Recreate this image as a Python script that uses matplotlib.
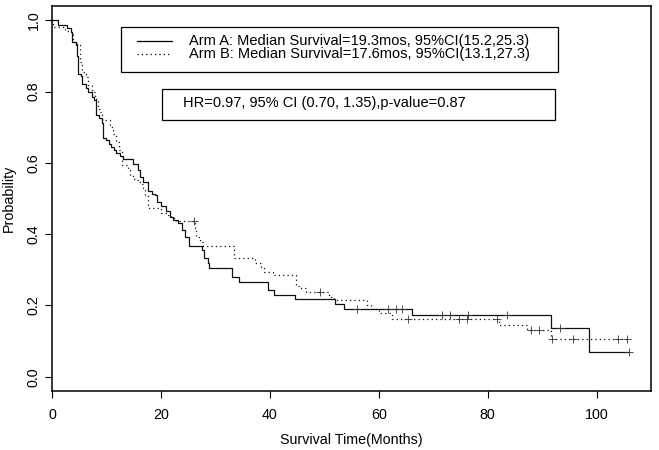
import matplotlib
matplotlib.use("Agg")
import matplotlib.pyplot as plt
import numpy as np
from matplotlib.patches import Rectangle
from matplotlib.lines import Line2D

plt.rcParams['font.family'] = ['Liberation Sans', 'DejaVu Sans']

# Arm A (solid): event times (months) and survival after each step
times_a = [0, 1.1, 2.7, 3.4, 3.6, 4.4, 4.6, 4.8, 5.3, 5.5, 6.2, 6.6, 7.3, 7.7, 8.0,
           8.6, 9.1, 9.4, 10.0, 10.5, 10.9, 11.4, 11.8, 12.5, 13.1, 14.9, 15.8,
           16.1, 16.7, 17.6, 18.4, 18.9, 19.3, 20.1, 21.0, 21.6, 22.2, 23.1, 23.8,
           24.4, 25.1, 27.6, 28.0, 28.6, 28.9, 33.1, 34.4, 39.6, 40.8, 44.7, 52.0,
           53.7, 66.1, 91.6, 98.7]
surv_a = [1.0, 0.988, 0.978, 0.966, 0.94, 0.93, 0.90, 0.85, 0.845, 0.82, 0.81, 0.80,
          0.785, 0.776, 0.733, 0.726, 0.711, 0.67, 0.663, 0.654, 0.645, 0.636, 0.629,
          0.619, 0.612, 0.598, 0.58, 0.56, 0.545, 0.521, 0.514, 0.509, 0.49, 0.479,
          0.465, 0.449, 0.441, 0.43, 0.411, 0.393, 0.366, 0.355, 0.332, 0.319, 0.304,
          0.279, 0.266, 0.243, 0.229, 0.217, 0.203, 0.189, 0.173, 0.138, 0.069]
end_a = 105.9
censor_a = [56.0, 61.7, 63.1, 64.3, 71.7, 73.0, 76.4, 83.5, 93.2, 105.9]

# Arm B (dotted)
times_b = [0, 0.2, 2.4, 3.3, 3.9, 4.5, 5.1, 5.5, 6.2, 6.6, 7.3, 7.9, 8.5, 8.8, 9.1,
           10.6, 11.2, 11.7, 12.3, 12.8, 12.9, 14.0, 14.3, 14.9, 15.6, 16.1, 16.7,
           17.0, 17.6, 17.9, 20.1, 21.3, 21.9, 22.7, 26.2, 26.5, 27.1, 27.8, 33.4,
           37.2, 38.4, 39.0, 40.5, 44.8, 45.7, 46.6, 50.9, 51.8, 57.9, 58.6, 60.1,
           62.5, 82.1, 87.2, 91.6]
surv_b = [1.0, 0.98, 0.971, 0.966, 0.938, 0.93, 0.882, 0.854, 0.84, 0.817, 0.798,
          0.778, 0.751, 0.743, 0.72, 0.70, 0.682, 0.659, 0.636, 0.612, 0.593, 0.579,
          0.565, 0.556, 0.551, 0.542, 0.523, 0.509, 0.481, 0.472, 0.46, 0.453, 0.444,
          0.437, 0.416, 0.393, 0.378, 0.366, 0.332, 0.318, 0.308, 0.294, 0.285, 0.254,
          0.248, 0.238, 0.224, 0.215, 0.201, 0.189, 0.178, 0.162, 0.145, 0.131, 0.107]
end_b = 105.6
censor_b = [26.1, 49.2, 65.4, 74.7, 76.2, 81.7, 88.0, 89.4, 91.8, 95.6, 103.9, 105.6]

legend_labels = ["Arm A: Median Survival=19.3mos, 95%CI(15.2,25.3)",
                 "Arm B: Median Survival=17.6mos, 95%CI(13.1,27.3)"]
hr_text = "HR=0.97, 95% CI (0.70, 1.35),p-value=0.87"

W, H = 659, 450
fig = plt.figure(figsize=(W / 100, H / 100), dpi=100)
ax = fig.add_axes([52 / W, (H - 391) / H, (651 - 52) / W, (391 - 6) / H])


def surv_at(times, surv, t):
    idx = np.searchsorted(times, t, side='right') - 1
    return np.asarray(surv)[idx]


for times, surv, end, cens, ls in [(times_a, surv_a, end_a, censor_a, '-'),
                                   (times_b, surv_b, end_b, censor_b, (0, (1, 2.5)))]:
    ax.step(np.append(times, end), np.append(surv, surv[-1]), where='post',
            color='#111111', lw=0.9, ls=ls)
    ax.plot(cens, surv_at(times, surv, cens), '+', color='#333333', ms=5.5, mew=0.6)

ax.set_xlim(0, 110)
ax.set_ylim(-0.04, 1.04)
ax.set_xticks([0, 20, 40, 60, 80, 100])
ax.set_yticks([0.0, 0.2, 0.4, 0.6, 0.8, 1.0])
ax.set_yticklabels(["0.0", "0.2", "0.4", "0.6", "0.8", "1.0"], rotation=90, va='center')
ax.tick_params(length=5, width=0.8, labelsize=10.3, direction='out')
ax.tick_params(axis='x', pad=7)
ax.tick_params(axis='y', pad=3)
for s in ax.spines.values():
    s.set_linewidth(1.1)
ax.set_xlabel("Survival Time(Months)", fontsize=10.3, labelpad=8)
ax.set_ylabel("Probability", fontsize=10.3, labelpad=8)


# legend boxes drawn in pixel coordinates (from top-left)
def px(x, y):
    return x / W, 1 - y / H


def box(x0, y0, x1, y1):
    fig.add_artist(Rectangle(px(x0, y1), (x1 - x0) / W, (y1 - y0) / H,
                             transform=fig.transFigure, fill=False,
                             edgecolor='black', lw=0.9))


box(121, 27, 558, 72)
for label, ls, yy in [(legend_labels[0], '-', 40.5), (legend_labels[1], (0, (1, 2.5)), 54)]:
    fig.add_artist(Line2D([137 / W, 172 / W], [1 - yy / H] * 2, color='black', lw=0.9, ls=ls))
    fig.text(*px(189, yy), label, fontsize=10.5, va='center', ha='left')

box(162, 89, 555, 120)
fig.text(*px(183, 103.5), hr_text, fontsize=10.5, va='center', ha='left')

fig.savefig("out.png", dpi=100)
